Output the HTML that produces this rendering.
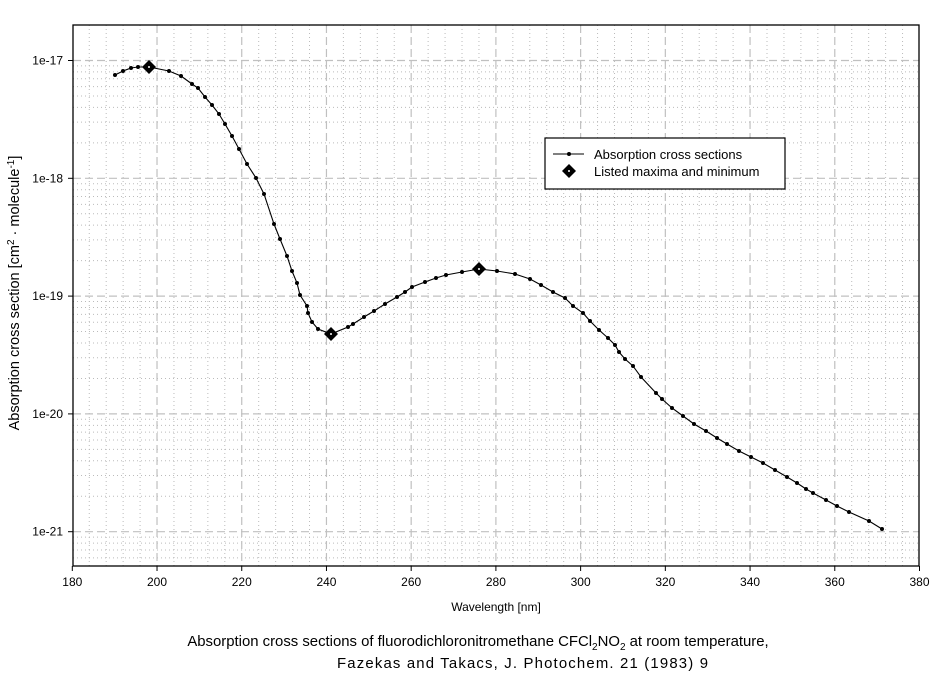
<!DOCTYPE html>
<html><head><meta charset="utf-8"><style>
html,body{margin:0;padding:0;background:#fff}
svg{display:block;font-family:"Liberation Sans",Arial,sans-serif}
</style></head><body>
<svg id="s" width="944" height="676" viewBox="0 0 944 676" xmlns="http://www.w3.org/2000/svg">
<rect width="944" height="676" fill="#fff"/>
<g id="grid"></g>
<g id="data"></g>
<rect x="73" y="25" width="846" height="541" fill="none" stroke="#000" stroke-width="1.3"/>
<g id="ticks" font-size="12"></g>
<text x="496" y="611" font-size="12" text-anchor="middle">Wavelength [nm]</text>
<text transform="translate(19,293) rotate(-90)" font-size="14.5" text-anchor="middle">Absorption cross section [cm<tspan dy="-5" font-size="10">2</tspan><tspan dy="5"> · molecule</tspan><tspan dy="-5" font-size="10">-1</tspan><tspan dy="5">]</tspan></text>
<text x="478" y="646" font-size="14.9" text-anchor="middle">Absorption cross sections of fluorodichloronitromethane CFCl<tspan dy="4" font-size="10">2</tspan><tspan dy="-4">NO</tspan><tspan dy="4" font-size="10">2</tspan><tspan dy="-4"> at room temperature,</tspan></text>
<text x="337" y="668" font-size="14.9" textLength="371" lengthAdjust="spacing">Fazekas and Takacs, J. Photochem. 21 (1983) 9</text>
<rect x="545" y="138" width="240" height="51" fill="#fff" stroke="#000" stroke-width="1.2"/>
<line x1="553" y1="154" x2="584" y2="154" stroke="#000"/>
<circle cx="569" cy="154" r="2" fill="#000"/>
<path d="M569 164 L576 171 L569 178 L562 171Z" fill="#000"/>
<circle cx="569" cy="171" r="1" fill="#fff"/>
<text x="594" y="159" font-size="13">Absorption cross sections</text>
<text x="594" y="176" font-size="13">Listed maxima and minimum</text>
</svg>
<script>
var NS="http://www.w3.org/2000/svg";
function el(p,t,a){var e=document.createElementNS(NS,t);for(var k in a)e.setAttribute(k,a[k]);p.appendChild(e);return e;}
var X=function(w){return 72.3+(w-180)*4.236;};
var Y=function(e){return 60.5+(-17-e)*117.8;};
var g=document.getElementById("grid"),tk=document.getElementById("ticks");
for(var w=184;w<380;w+=4){if(w%20==0)continue;var x=X(w);el(g,"line",{x1:x,x2:x,y1:25,y2:566,stroke:"#bbb","stroke-dasharray":"1,3","stroke-width":1});}
for(var d=-22;d<=-17;d++){for(var m=2;m<=9;m++){var y=Y(d+Math.log10(m));if(y<25||y>566)continue;el(g,"line",{x1:73,x2:919,y1:y,y2:y,stroke:"#bbb","stroke-dasharray":"1,3","stroke-width":1});}}
for(var w=200;w<380;w+=20){var x=X(w);el(g,"line",{x1:x,x2:x,y1:25,y2:566,stroke:"#c0c0c0","stroke-dasharray":"8,4","stroke-width":1.2});}
for(var d=-21;d<=-17;d++){var y=Y(d);el(g,"line",{x1:73,x2:919,y1:y,y2:y,stroke:"#c0c0c0","stroke-dasharray":"8,4","stroke-width":1.2});
el(tk,"line",{x1:68,x2:73,y1:y,y2:y,stroke:"#000"});var t=el(tk,"text",{x:63,y:y+4,"text-anchor":"end"});t.textContent="1e"+d;}
for(var w=180;w<=380;w+=20){var x=X(w);el(tk,"line",{x1:x,x2:x,y1:566,y2:571,stroke:"#000"});var t=el(tk,"text",{x:x,y:586,"text-anchor":"middle"});t.textContent=w;}
var P=[[115,75],[123,71],[131,68],[138,67],[149,67],[169,71],[181,76],[192,84],[198,88],[205,97],[212,105],[219,114],[225,124],[232,136],[239,149],[247,164],[256,178],[264,194],[274,224],[280,239],[287,256],[292,271],[297,283],[300,295],[307,306],[308,313],[312,322],[318,329],[331,334],[348,327],[353,324],[364,317],[374,311],[385,304],[397,297],[405,292],[412,287],[425,282],[436,278],[446,275],[462,272],[479,269],[497,271],[515,274],[530,279],[541,285],[553,292],[565,298],[573,306],[583,313],[590,321],[599,330],[608,338],[615,345],[619,352],[625,359],[633,366],[641,377],[656,393],[662,399],[672,408],[683,416],[694,424],[706,431],[717,438],[727,444],[739,451],[751,457],[763,463],[775,470],[787,477],[797,483],[806,489],[813,493],[826,500],[837,506],[849,512],[869,521],[882,529]];
var dg=document.getElementById("data");
el(dg,"polyline",{points:P.map(function(p){return p.join(",")}).join(" "),fill:"none",stroke:"#000","stroke-width":1.1});
P.forEach(function(p){el(dg,"circle",{cx:p[0],cy:p[1],r:2,fill:"#000"});});
[[149,67],[331,334],[479,269]].forEach(function(p){var x=p[0],y=p[1];el(dg,"path",{d:"M"+x+" "+(y-7)+" L"+(x+7)+" "+y+" L"+x+" "+(y+7)+" L"+(x-7)+" "+y+"Z",fill:"#000"});el(dg,"circle",{cx:x,cy:y,r:1,fill:"#fff"});});
</script>
</body></html>
